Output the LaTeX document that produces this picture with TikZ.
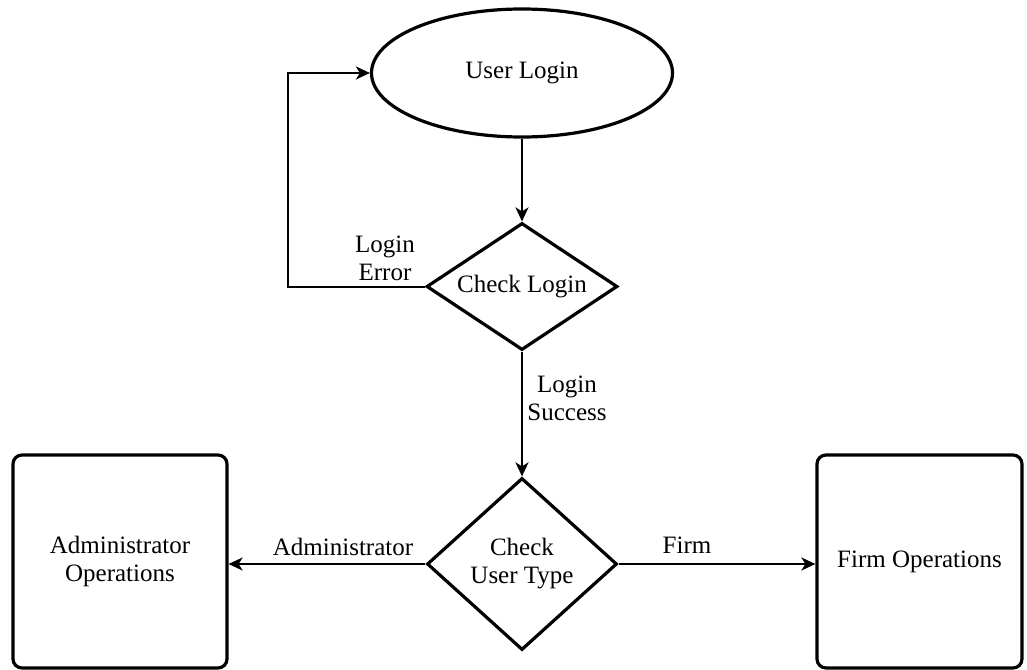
\documentclass[tikz,border=0pt]{standalone}
\usepackage{fontspec}
\setmainfont{Liberation Serif}
\usetikzlibrary{shapes.geometric,arrows.meta}

\begin{document}
\begin{tikzpicture}[x=1pt,y=-1pt,font=\rmfamily\fontsize{25}{28}\selectfont,
    shapeline/.style={draw, line width=3.2pt},
    decision/.style={shapeline, diamond, aspect=1.5, inner sep=0pt, align=center},
    opbox/.style={shapeline, rectangle, rounded corners=9pt, align=center},
    flow/.style={line width=2pt, -{Stealth[length=14pt,width=13pt,inset=4pt]}}]
        \useasboundingbox (0,0) rectangle (1027,669);
        \node[shapeline, ellipse, minimum width=301pt, minimum height=128pt, inner sep=0pt] (ul) at (522,73) {User Login};
        \node[decision, minimum width=191pt, minimum height=127pt] (cl) at (522,286.5) {Check Login};
        \node[decision, minimum width=190pt, minimum height=172pt] (ct) at (522,564) {Check\\User Type};
        \node[opbox, minimum width=214pt, minimum height=213pt] (ad) at (120,561.5) {Administrator\\Operations};
        \node[opbox, minimum width=205pt, minimum height=213pt] (fo) at (919.5,561.5) {Firm Operations};
        \coordinate (lp) at (288,286.5);
        \draw[flow] (ul) -- (cl);
        \draw[flow] (cl.west) -- (lp) |- (ul.west);
        \draw[flow] (cl) -- (ct);
        \draw[flow] (ct.west) -- (ad.east |- ct.west);
        \draw[flow] (ct.east) -- (fo.west |- ct.east);
        \node[align=center] (le) at (385,258) {Login\\Error};
        \node[align=center] (ls) at (567,398) {Login\\Success};
        \node (la) at (343,547) {Administrator};
        \node (lf) at (687,545) {Firm};
    \end{tikzpicture}
\end{document}
